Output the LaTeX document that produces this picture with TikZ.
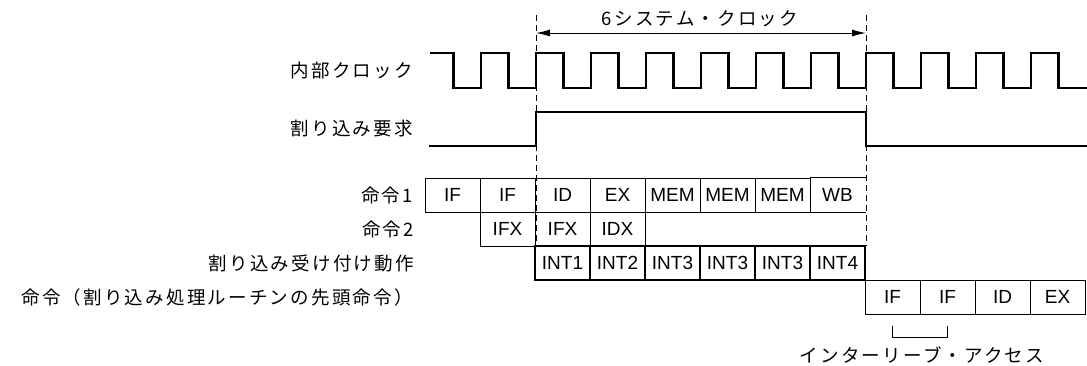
\documentclass[tikz,border=0pt]{standalone}
\usepackage{fontspec}
\setmainfont{Liberation Sans}
\newfontfamily\jp{Noto Sans CJK JP}[LetterSpace=12]
\usepackage{tikz}
\usetikzlibrary{arrows.meta,positioning,calc}
\newcommand{\DiagramFont}{\fontsize{19}{22}\selectfont}
\newcommand{\LabelFont}{\fontsize{18.5}{22}\jp}
\tikzstyle{OpenCell} =[line width=1pt,minimum width=55pt,minimum height=34pt,inner sep=0pt]
\tikzstyle{PipeCell} =[OpenCell,draw]
\tikzstyle{IntCell} =[PipeCell,line width=2.4pt]
\tikzstyle{RowLabel} =[anchor=east,inner sep=0pt,font=\LabelFont]
\tikzstyle{JpText} =[font=\LabelFont]
\tikzstyle{Signal} =[line width=2.6pt,line join=miter]
\tikzstyle{TimeMark} =[line width=1pt,dash pattern=on 6pt off 4pt]
\tikzstyle{Span} =[line width=1pt,{Latex[length=14pt,width=7pt]}-{Latex[length=14pt,width=7pt]}]

\begin{document}
\begin{tikzpicture}[x=1pt,y=-1pt,node distance=34pt and 55pt,on grid,font=\DiagramFont]
\useasboundingbox (0,0) rectangle (1087,365);
% row labels
\node[RowLabel](ClockLabel) at (413,70){内部クロック};
\node[RowLabel](RequestLabel) at (413,129){割り込み要求};
\node[RowLabel](Instr1Label) at (413,195){命令1};
\node[RowLabel](Instr2Label) at (414,229){命令2};
\node[RowLabel](AcceptLabel) at (414,263){割り込み受け付け動作};
\node[RowLabel](HandlerLabel) at (413,297){命令（割り込み処理ルーチンの先頭命令）};
% six system clocks
\coordinate (SpanStart) at (536,15);
\coordinate (SpanEnd) at (866,15);
\draw[TimeMark] (SpanStart) -- ++(0,231);
\draw[TimeMark] (SpanEnd) -- ++(0,231);
\draw[Span] ([yshift=-18pt]SpanStart) -- ([yshift=-18pt]SpanEnd);
\node[JpText](SpanLabel) at (700,19){6システム・クロック};
% waveforms
\draw[Signal] (430,53) foreach \k in {0,...,10}{ -- ({453.5+55*\k},53) -- ({453.5+55*\k},88) -- ({481+55*\k},88) -- ({481+55*\k},53)} -- (1058.5,53) -- (1058.5,88) -- (1087,88);
\draw[Signal] (429,146) -- (536,146) -- (536,112) -- (866,112) -- (866,146) -- (1087,146);
% instruction 1
\node[PipeCell](I1-1) at (452.5,195){IF};
\node[PipeCell,right=of I1-1](I1-2){IF};
\node[PipeCell,right=of I1-2](I1-3){ID};
\node[PipeCell,right=of I1-3](I1-4){EX};
\node[PipeCell,right=of I1-4](I1-5){MEM};
\node[PipeCell,right=of I1-5](I1-6){MEM};
\node[PipeCell,right=of I1-6](I1-7){MEM};
\node[OpenCell,right=of I1-7](I1-8){WB};
\draw[line width=1pt] (I1-8.north west) -- (I1-8.north east);
\draw[line width=1pt] (I1-8.south west) -- (I1-8.south east);
% instruction 2
\node[PipeCell,below=of I1-2](I2-1){IFX};
\node[PipeCell,right=of I2-1](I2-2){IFX};
\node[PipeCell,right=of I2-2](I2-3){IDX};
% interrupt acceptance
\node[IntCell,below=of I2-2](Int-1){INT1};
\node[IntCell,right=of Int-1](Int-2){INT2};
\node[IntCell,right=of Int-2](Int-3){INT3};
\node[IntCell,right=of Int-3](Int-4){INT3};
\node[IntCell,right=of Int-4](Int-5){INT3};
\node[IntCell,right=of Int-5](Int-6){INT4};
% first instruction of the handler
\node[PipeCell,below right=of Int-6](H-1){IF};
\node[PipeCell,right=of H-1](H-2){IF};
\node[PipeCell,right=of H-2](H-3){ID};
\node[PipeCell,right=of H-3](H-4){EX};
\draw[line width=1pt] ([yshift=-11pt]H-1.south) -- ++(0,12) -| ([yshift=-11pt]H-2.south);
\node[JpText](AccessLabel) at (922,355){インターリーブ・アクセス};
\end{tikzpicture}
\end{document}
